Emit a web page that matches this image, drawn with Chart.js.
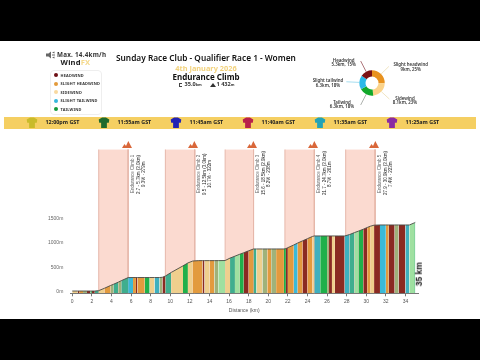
<!DOCTYPE html>
<html>
<head>
<meta charset="utf-8">
<title>Endurance Climb</title>
<script src="https://cdn.jsdelivr.net/npm/chart.js@4"></script>
<style>
html, body { margin: 0; padding: 0; background: #fff; }
#page { position: relative; width: 480px; height: 360px; overflow: hidden; background: #fff; font-family: "Noto Sans", sans-serif; color: #111; }
.bar { position: absolute; left: 0; width: 480px; background: #000; }
.t { position: absolute; white-space: nowrap; line-height: 1; }
.c { transform: translateX(-50%); text-align: center; }
#main, #donut { position: absolute; }
#strip { position: absolute; left: 4px; top: 117px; width: 472px; height: 11.5px; background: #f5cf62; }
#strip .t { top: 3px; font-size: 5.4px; font-weight: 700; color: #222; }
#strip svg { position: absolute; top: 0; }
#legend { position: absolute; left: 50px; top: 70px; width: 50px; height: 43px; border: 0.5px solid #eeeeee; border-radius: 4px; }
.dot { position: absolute; width: 4px; height: 4px; border-radius: 50%; }
.lg { font-size: 3.9px; font-weight: 700; color: #333; letter-spacing: 0.18px; }
.dl { font-size: 4.4px; font-weight: 600; color: #333; line-height: 4.7px; text-align: center; }
.climb { position: absolute; top: 153px; height: 42px; writing-mode: vertical-rl; transform: rotate(180deg); text-align: center; font-family: "Liberation Sans", sans-serif; font-size: 4.5px; line-height: 5.6px; color: #222; white-space: nowrap; }
.climb span { color: #666; }
</style>
</head>
<body>
<div id="page">
  <canvas id="main" width="480" height="360" style="left:0;top:0"></canvas>
  <canvas id="donut" width="80" height="80" style="left:331.7px;top:42.7px"></canvas>

  <div class="bar" style="top:0;height:41px"></div>
  <div class="bar" style="top:319px;height:41px"></div>

  <svg style="position:absolute;left:46px;top:51px" width="9" height="8" viewBox="0 0 9 8"><path d="M0 2.5h2.5L5 .5v7L2.5 5.500H0z M6 1.500l2.500-1v2z M6 3.500h3v1H6z M6 6.500l2.500 1v-2z" fill="#666"/></svg>
  <div class="t" style="left:57px;top:51.500px;font-size:6.300px;font-weight:700;letter-spacing:.25px;color:#333">Max. 14.4km/h</div>
  <div class="t c" style="left:75.500px;top:59px;font-size:7.600px;font-weight:700;letter-spacing:.2px;color:#222">Wind<span style="color:#f5d98a">FX</span></div>

  <div id="legend"></div>

  <div class="t" style="left:116px;top:54px;font-size:8.300px;font-weight:600;color:#111">Sunday Race Club - Qualifier Race 1 - Women</div>
  <div class="t c" style="left:206px;top:65px;font-size:7.400px;font-weight:700;color:#f2d27c">4th January 2026</div>
  <div class="t c" style="left:206px;top:73px;font-size:8px;font-weight:700;color:#111">Endurance Climb</div>
  <svg style="position:absolute;left:178px;top:82px" width="5" height="6" viewBox="0 0 5 6"><path d="M1 1h3v1H2v2h2v1H1z" fill="#444"/></svg>
  <div class="t" style="left:184.500px;top:81.500px;font-size:5.600px;font-weight:700;color:#333">35.0<span style="font-size:3.800px">km</span></div>
  <svg style="position:absolute;left:210px;top:83px" width="6" height="4" viewBox="0 0 6 4"><path d="M0 4L3 0l3 4z" fill="#333"/></svg>
  <div class="t" style="left:216.500px;top:81.500px;font-size:5.600px;font-weight:700;color:#333">1 432<span style="font-size:3.800px">m</span></div>

  <div class="t c dl" style="left:343.700px;top:57.500px">Headwind<br>5.3km, 15%</div>
  <div class="t c dl" style="left:410.700px;top:62px">Slight headwind<br>9km, 25%</div>
  <div class="t c dl" style="left:405px;top:95.500px">Sidewind<br>8.1km, 23%</div>
  <div class="t c dl" style="left:342px;top:99.500px">Tailwind<br>6.3km, 18%</div>
  <div class="t c dl" style="left:328px;top:78px">Slight tailwind<br>6.3km, 18%</div>

  <div id="strip"></div>
  <div id="climbs"></div>

  <div class="t" style="left:406.500px;top:270px;font-size:8.500px;font-weight:700;color:#111;transform:rotate(-90deg);font-family:'Liberation Sans',sans-serif">35 km</div>
</div>

<script>
// Wind classes
const windNames = ['HEADWIND', 'SLIGHT HEADWIND', 'SIDEWIND', 'SLIGHT TAILWIND', 'TAILWIND'];
const windDots = ['#6d0f14', '#e39a3b', '#f8d9a0', '#35b6dc', '#159a3a'];

// Donut
const donutLabels = ['Slight headwind', 'Sidewind', 'Tailwind', 'Slight tailwind', 'Headwind'];
const donutValues = [25, 23, 18, 18, 15];
const donutColors = ['#e8921f', '#fbd38a', '#12a82a', '#29b8e8', '#7b1113'];
const leaderColors = ['#e9d9a8', '#e9d9a8', '#8a8f8a', '#7fd0ea', '#8a3a40'];
const leaderLengths = [11, 11, 12, 13, 12];

// Rider start times
const startTimes = ['12:00pm GST', '11:55am GST', '11:45am GST', '11:40am GST', '11:35am GST', '11:25am GST'];
const jerseyColors = ['#c9bb2a', '#1f6b2d', '#2222b4', '#b9204a', '#22a3b5', '#8a2ba3'];

// Climbs
const climbStart = [2.7, 9.5, 15.6, 21.7, 27.9];
const climbEnd = [5.7, 12.5, 18.5, 24.7, 30.9];
const climbNames = ['Endurance Climb 1', 'Endurance Climb 2', 'Endurance Climb 3', 'Endurance Climb 4', 'Endurance Climb 5'];
const climbRanges = ['2.7 - 5.7km (3.0km)', '9.5 - 12.5km (3.0km)', '15.6 - 18.5km (2.9km)', '21.7 - 24.7km (3.0km)', '27.9 - 30.9km (3.0km)'];
const climbStats = ['9.3% · 279m', '10.7% · 322m', '8.2% · 238m', '8.7% · 261m', '7.4% · 223m'];

// Profile, windCodes[i] colours the stretch from distanceKm[i] to distanceKm[i+1]
const distanceKm = [0, 0.55, 0.7, 1.1, 1.5, 1.85, 2.0, 2.3, 2.7, 3.3, 3.9, 4.2, 4.7, 5.0, 5.7, 6.2, 6.5, 6.65, 7.4, 7.9, 8.4, 8.9, 9.2, 9.5, 10.1, 11.3, 11.8, 12.3, 12.9, 13.3, 13.5, 14.0, 14.5, 14.9, 15.6, 16.1, 16.6, 17.1, 17.5, 18.0, 18.5, 18.8, 19.4, 19.9, 20.3, 20.8, 21.6, 21.8, 22.0, 22.6, 23.0, 23.5, 24.0, 24.5, 24.7, 25.3, 26.0, 26.2, 26.5, 26.8, 27.2, 27.8, 28.3, 28.8, 29.2, 29.7, 30.1, 30.4, 30.8, 31.4, 32.0, 32.3, 32.9, 33.3, 34.0, 34.4, 34.9, 35];
const elevationM = [12, 12, 12, 12, 12, 12, 12, 12, 20, 70, 125, 150, 195, 225, 288, 290, 290, 290, 290, 290, 290, 290, 295, 320, 395, 530, 590, 630, 638, 638, 638, 638, 638, 638, 640, 690, 730, 770, 800, 840, 878, 878, 878, 878, 878, 878, 878, 885, 905, 960, 1000, 1045, 1090, 1135, 1146, 1146, 1146, 1146, 1146, 1146, 1146, 1146, 1175, 1215, 1245, 1285, 1320, 1345, 1368, 1372, 1372, 1372, 1372, 1372, 1372, 1372, 1415, 1425];
const windCodes = ['W', 'H', 'S', 'M', 'H', 'G', 'H', 'L', 'W', 'S', 'M', 'L', 'M', 'L', 'B', 'S', 'H', 'S', 'G', 'W', 'T', 'M', 'H', 'L', 'W', 'G', 'W', 'S', 'S', 'H', 'W', 'S', 'M', 'E', 'W', 'L', 'E', 'G', 'H', 'S', 'L', 'W', 'M', 'S', 'M', 'S', 'G', 'H', 'S', 'B', 'S', 'H', 'S', 'W', 'T', 'G', 'M', 'H', 'W', 'H', 'H', 'T', 'L', 'E', 'G', 'H', 'S', 'W', 'H', 'B', 'S', 'H', 'M', 'H', 'T', 'E', 'G'];
const windStripeColors = { H: '#8a2a22', S: '#e29a3e', W: '#efcf8d', T: '#3eb0bf', G: '#1fb04a', L: '#3fae8e', M: '#9fb27a', E: '#9fe0a0', B: '#3bbad8' };

const xTickValues = [0, 2, 4, 6, 8, 10, 12, 14, 16, 18, 20, 22, 24, 26, 28, 30, 32, 34];
const yTickValues = [0, 500, 1000, 1500];

// Page bits built from the lists
const legend = document.getElementById('legend');
windNames.forEach(function(name, i) {
    const dot = document.createElement('div');
    dot.className = 'dot';
    dot.style.left = '3px';
    dot.style.top = (2.3 + 8.5 * i) + 'px';
    dot.style.background = windDots[i];
    legend.appendChild(dot);
    const label = document.createElement('div');
    label.className = 't lg';
    label.style.left = '9.500px';
    label.style.top = (2.5 + 8.5 * i) + 'px';
    label.textContent = name;
    legend.appendChild(label);
});

const strip = document.getElementById('strip');
startTimes.forEach(function(time, i) {
    const jersey = document.createElementNS('http://www.w3.org/2000/svg', 'svg');
    jersey.setAttribute('width', '12');
    jersey.setAttribute('height', '11.5');
    jersey.setAttribute('viewBox', '0 0 12 12');
    jersey.style.left = (22 + 72 * i) + 'px';
    jersey.innerHTML = '<path d="M4 .5 L8 .5 L11.500 2.500 L11 6 L9 6 L9 11.500 L3 11.500 L3 6 L1 6 L.5 2.500 Z" fill="' + jerseyColors[i] + '"/>';
    strip.appendChild(jersey);
    const label = document.createElement('div');
    label.className = 't';
    label.style.left = (41.500 + 72 * i) + 'px';
    label.textContent = time;
    strip.appendChild(label);
});

// Chart area mapping, kept in one place
const plotLeft = 70.3;
const plotRight = 418.2;
const plotTop = 149.3;
const plotBottom = 293.3;
const xMin = -0.2;
const xMax = 35.3;
const yMin = -35;
const yMax = 2930;

const climbsBox = document.getElementById('climbs');
climbNames.forEach(function(name, i) {
    const endX = plotLeft + (climbEnd[i] - xMin) / (xMax - xMin) * (plotRight - plotLeft);
    const box = document.createElement('div');
    box.className = 'climb';
    box.style.left = (endX + 1.5) + 'px';
    box.innerHTML = '<span>' + name + '</span><br>' + climbRanges[i] + '<br>' + climbStats[i];
    climbsBox.appendChild(box);

    const icon = document.createElementNS('http://www.w3.org/2000/svg', 'svg');
    icon.setAttribute('width', '10');
    icon.setAttribute('height', '7');
    icon.setAttribute('viewBox', '0 0 10 7');
    icon.style.position = 'absolute';
    icon.style.left = (endX - 6.500) + 'px';
    icon.style.top = '141px';
    icon.innerHTML = '<path d="M0 7 L2.500 3 L4 5 L6.300 0 L10 7 Z" fill="#d9673a"/>';
    climbsBox.appendChild(icon);
});

// Main profile chart
const profilePoints = distanceKm.map(function(km, i) {
    return { x: km, y: elevationM[i] };
});

const climbDatasets = climbStart.map(function(start, i) {
    return {
        type: 'line',
        order: 2,
        data: [
            { x: start, y: yMin },
            { x: start, y: yMax },
            { x: climbEnd[i], y: yMax },
            { x: climbEnd[i], y: yMin }
        ],
        fill: 'start',
        backgroundColor: '#fbdad0',
        borderWidth: 1,
        borderColor: '#e6b7aa',
        pointRadius: 0,
        tension: 0,
        segment: {
            borderColor: function(ctx) {
                return ctx.p0DataIndex === 1 ? 'rgba(0,0,0,0)' : '#e6b7aa';
            }
        }
    };
});

new Chart(document.getElementById('main').getContext('2d'), {
    type: 'line',
    data: {
        datasets: climbDatasets.concat([{
            type: 'line',
            order: 1,
            data: profilePoints,
            fill: 'start',
            backgroundColor: windStripeColors.W,
            borderColor: '#4a4a44',
            borderWidth: 0.9,
            pointRadius: 0,
            tension: 0,
            segment: {
                backgroundColor: function(ctx) {
                    return windStripeColors[windCodes[ctx.p0DataIndex]];
                }
            }
        }])
    },
    options: {
        responsive: false,
        animation: false,
        layout: { padding: { left: 0, right: 480 - plotRight, top: plotTop, bottom: 360 - plotBottom - 20 } },
        plugins: { legend: { display: false }, tooltip: { enabled: false } },
        scales: {
            x: {
                type: 'linear',
                min: xMin,
                max: xMax,
                afterBuildTicks: function(scale) {
                    scale.ticks = xTickValues.map(function(v) { return { value: v }; });
                },
                afterFit: function(scale) { scale.height = 20; },
                grid: { drawOnChartArea: false, tickLength: 3, color: '#777' },
                border: { color: '#777' },
                ticks: {
                    color: '#555',
                    font: { family: 'Liberation Sans', size: 5 },
                    padding: 2,
                    autoSkip: false,
                    maxRotation: 0,
                    callback: function(v) { return v; }
                },
                title: {
                    display: true,
                    text: 'Distance (km)',
                    color: '#555',
                    font: { family: 'Liberation Sans', size: 5 },
                    padding: 0
                }
            },
            y: {
                type: 'linear',
                min: yMin,
                max: yMax,
                afterBuildTicks: function(scale) {
                    scale.ticks = yTickValues.map(function(v) { return { value: v }; });
                },
                afterFit: function(scale) { scale.width = plotLeft; },
                grid: { display: false, drawTicks: false },
                border: { display: false },
                ticks: {
                    color: '#666',
                    font: { family: 'Liberation Sans', size: 5 },
                    padding: 7,
                    autoSkip: false,
                    callback: function(v) { return v + 'm'; }
                }
            }
        }
    }
});

// Radial leader lines from each slice towards its label
const leaderPlugin = {
    id: 'leaders',
    afterDatasetsDraw: function(chart) {
        const c = chart.ctx;
        chart.getDatasetMeta(0).data.forEach(function(arc, i) {
            const mid = (arc.startAngle + arc.endAngle) / 2;
            const r0 = arc.outerRadius;
            const r1 = r0 + leaderLengths[i];
            c.beginPath();
            c.moveTo(arc.x + Math.cos(mid) * r0, arc.y + Math.sin(mid) * r0);
            c.lineTo(arc.x + Math.cos(mid) * r1, arc.y + Math.sin(mid) * r1);
            c.lineWidth = 0.7;
            c.strokeStyle = leaderColors[i];
            c.stroke();
        });
    }
};

new Chart(document.getElementById('donut').getContext('2d'), {
    type: 'doughnut',
    data: {
        labels: donutLabels,
        datasets: [{ data: donutValues, backgroundColor: donutColors, borderWidth: 0 }]
    },
    options: {
        responsive: false,
        animation: false,
        radius: 12.7,
        cutout: '51%',
        plugins: { legend: { display: false }, tooltip: { enabled: false } }
    },
    plugins: [leaderPlugin]
});
</script>
</body>
</html>
